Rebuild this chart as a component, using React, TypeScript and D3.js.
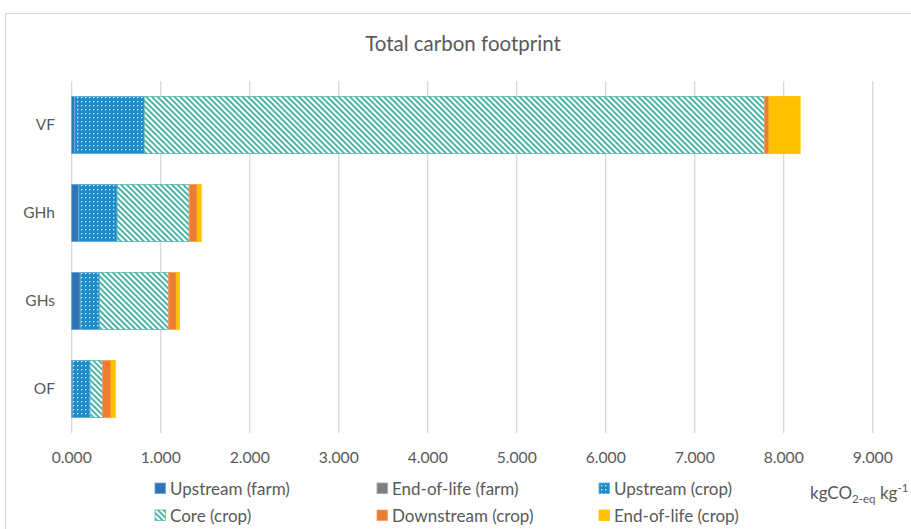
import React from "react";
import * as d3 from "d3";

const categories = ["VF", "GHh", "GHs", "OF"];
const seriesNames = [
  "Upstream (farm)",
  "End-of-life (farm)",
  "Upstream (crop)",
  "Core (crop)",
  "Downstream (crop)",
  "End-of-life (crop)",
];
const upstreamFarm = [0.03, 0.075, 0.095, 0.005];
const endOfLifeFarm = [0.005, 0.005, 0.005, 0.002];
const upstreamCrop = [0.78, 0.43, 0.21, 0.2];
const coreCrop = [6.97, 0.81, 0.78, 0.14];
const downstreamCrop = [0.05, 0.09, 0.085, 0.095];
const endOfLifeCrop = [0.35, 0.045, 0.035, 0.048];
const xTicks = [0, 1, 2, 3, 4, 5, 6, 7, 8, 9];

const W = 911;
const H = 529;
const FONT = "Lato, 'Open Sans', sans-serif";

export default function App() {
  const seriesValues = [upstreamFarm, endOfLifeFarm, upstreamCrop, coreCrop, downstreamCrop, endOfLifeCrop];
  const rows = categories.map((c, i) => {
    const r: any = { cat: c };
    seriesNames.forEach((s, j) => (r[s] = seriesValues[j][i]));
    return r;
  });
  const stack = d3.stack<any>().keys(seriesNames)(rows);

  const x = d3.scaleLinear().domain([0, 9]).range([71.7, 872.7]);
  const y = d3.scaleBand().domain(categories).range([81, 433]).paddingInner(0.35).paddingOuter(0.175);

  const fills = [
    { fill: "#2E75B6", stroke: "#6A9FD0" },
    { fill: "#7F7F7F", stroke: "#A5A5A5" },
    { fill: "url(#dots)", stroke: "#5AAAD8" },
    { fill: "url(#stripes)", stroke: "#5BB8AE" },
    { fill: "#ED7D31", stroke: "#F4A06A" },
    { fill: "#FFC000", stroke: "#FFC000" },
  ];

  const legendCols = [155, 377, 599];
  const legendRows = [495, 522];

  return (
    <svg width={W} height={H} style={{ position: "absolute", left: 0, top: 0 }}>
      <defs>
        <pattern id="dots" width="4" height="4" patternUnits="userSpaceOnUse">
          <rect width="4" height="4" fill="#1A8CCB" />
          <rect x="1" y="1" width="1.3" height="1.3" fill="#ffffff" opacity="0.9" />
        </pattern>
        <pattern id="stripes" width="4" height="4" patternUnits="userSpaceOnUse" patternTransform="rotate(45)">
          <rect width="4" height="4" fill="#ffffff" />
          <rect width="4" height="2" fill="#4DB3A9" />
        </pattern>
      </defs>
      <rect x={5.5} y={13.5} width={920} height={540} fill="#fff" stroke="#D9D9D9" />
      <text x={463} y={51} textAnchor="middle" fontFamily={FONT} fontSize={20.5} fill="#595959">
        Total carbon footprint
      </text>
      {xTicks.map((t) => (
        <g key={t}>
          <line x1={x(t)} x2={x(t)} y1={81} y2={433} stroke="#D9D9D9" strokeWidth={1.3} />
          <text x={x(t)} y={463} textAnchor="middle" fontFamily={FONT} fontSize={15.7} fill="#595959">
            {d3.format(".3f")(t)}
          </text>
        </g>
      ))}
      {stack.map((layer, j) =>
        layer.map((d, i) => (
          <rect
            key={`${j}-${i}`}
            x={x(d[0])}
            y={y(categories[i])}
            width={Math.max(0, x(d[1]) - x(d[0]))}
            height={y.bandwidth()}
            fill={fills[j].fill}
            stroke={fills[j].stroke}
            strokeWidth={0.8}
          />
        ))
      )}
      {categories.map((c) => (
        <text key={c} x={55} y={(y(c) as number) + y.bandwidth() / 2 + 5} textAnchor="end" fontFamily={FONT} fontSize={15.5} fill="#595959">
          {c}
        </text>
      ))}
      {seriesNames.map((s, j) => {
        const cx = legendCols[j % 3];
        const cy = legendRows[Math.floor(j / 3)];
        return (
          <g key={s}>
            <rect x={cx} y={cy - 12} width={10.5} height={10.5} fill={fills[j].fill} stroke={fills[j].stroke} strokeWidth={0.8} />
            <text x={cx + 15} y={cy} fontFamily={FONT} fontSize={17} fill="#595959">
              {s}
            </text>
          </g>
        );
      })}
      <text x={810} y={499} fontFamily={FONT} fontSize={17} fill="#595959">
        kgCO
        <tspan fontSize={11.5} dy={4}>2-eq</tspan>
        <tspan dy={-4}> kg</tspan>
        <tspan fontSize={11.5} dy={-7}>-1</tspan>
      </text>
    </svg>
  );
}
